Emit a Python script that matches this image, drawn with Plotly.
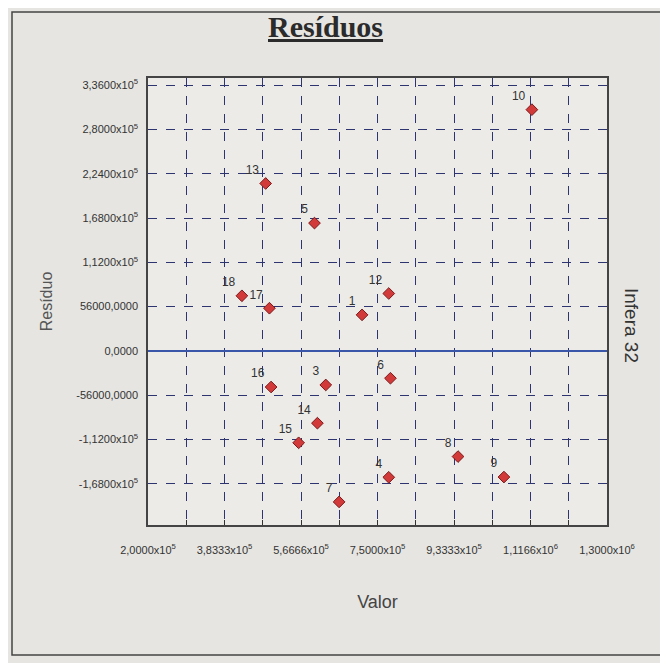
import plotly.graph_objects as go

# Data
labels = ["1", "3", "4", "5", "6", "7", "8", "9", "10", "12", "13", "14", "15", "16", "17", "18"]
valor = [713000, 626000, 777000, 599000, 781000, 658000, 943000, 1053000, 1120000,
         777000, 482000, 606000, 561000, 495000, 491000, 425000]
residuo = [45600, -43000, -159700, 161600, -34500, -190800, -133500, -159400, 305000,
           72600, 211700, -91300, -116100, -45600, 54000, 69700]

x_grid_vals = [200000 + k * 91666.67 for k in range(13)]
x_tick_text = ["2,0000x10<sup>5</sup>", "", "3,8333x10<sup>5</sup>", "", "5,6666x10<sup>5</sup>", "",
               "7,5000x10<sup>5</sup>", "", "9,3333x10<sup>5</sup>", "", "1,1166x10<sup>6</sup>", "",
               "1,3000x10<sup>6</sup>"]
y_tick_vals = [-168000, -112000, -56000, 0, 56000, 112000, 168000, 224000, 280000, 336000]
y_tick_text = ["-1,6800x10<sup>5</sup>", "-1,1200x10<sup>5</sup>", "-56000,0000", "0,0000",
               "56000,0000", "1,1200x10<sup>5</sup>", "1,6800x10<sup>5</sup>",
               "2,2400x10<sup>5</sup>", "2,8000x10<sup>5</sup>", "3,3600x10<sup>5</sup>"]

OFF = 8  # browser body margin
W, H = 660, 655
L, R, T, B = 148 - OFF, 607 - OFF, 78 - OFF, 525 - OFF

def px(x):
    return (x - OFF - L) / (R - L)

def py(y):
    return (B - (y - OFF)) / (B - T)

fig = go.Figure()
fig.add_trace(go.Scatter(
    x=valor, y=residuo, mode="markers+text", text=labels,
    textposition="top left",
    textfont=dict(family="Liberation Sans", size=12, color="#333333"),
    marker=dict(symbol="diamond", size=9, color="#d23a3a",
                line=dict(color="#7a1a1a", width=1)),
    cliponaxis=False, showlegend=False,
))

grid_color = "#2e3470"
fig.update_xaxes(
    range=[200000, 1300000], tickvals=x_grid_vals, ticktext=x_tick_text,
    showgrid=True, gridcolor=grid_color, griddash="dash", gridwidth=1.3,
    ticks="inside", ticklen=5, tickcolor="#333333", ticklabelstandoff=14,
    showline=True, linecolor="#444444", linewidth=1.5, mirror=True,
    zeroline=False,
    tickfont=dict(family="Liberation Sans Narrow, Liberation Sans", size=11, color="#333333"),
    title=dict(text="Valor", font=dict(family="Liberation Sans", size=18, color="#444444"), standoff=40),
)
fig.update_yaxes(
    range=[-220000, 345000], tickvals=y_tick_vals, ticktext=y_tick_text,
    showgrid=True, gridcolor=grid_color, griddash="dash", gridwidth=1.3,
    ticks="", ticklabelstandoff=6,
    showline=True, linecolor="#444444", linewidth=1.5, mirror=True,
    zeroline=True, zerolinecolor="#3a56a8", zerolinewidth=1.6,
    tickfont=dict(family="Liberation Sans Narrow, Liberation Sans", size=11, color="#333333"),
    title=dict(text="Resíduo", font=dict(family="Liberation Sans", size=16, color="#555555"), standoff=20),
)

fig.add_shape(type="rect", xref="paper", yref="paper",
              x0=px(12), x1=px(663), y0=py(655), y1=py(12),
              line=dict(color="#444444", width=1.5), fillcolor="rgba(0,0,0,0)", layer="below")

fig.add_annotation(text="<b><u>Resíduos</u></b>", xref="paper", yref="paper",
                   x=px(325), y=py(26), xanchor="center", yanchor="middle", showarrow=False,
                   font=dict(family="Liberation Serif", size=30, color="#2b2b2b"))
fig.add_annotation(text="Infera 32", xref="paper", yref="paper",
                   x=px(632), y=py(325), xanchor="center", yanchor="middle", showarrow=False,
                   textangle=90,
                   font=dict(family="Liberation Sans", size=19, color="#333333"))

fig.update_layout(
    width=W, height=H,
    margin=dict(l=L, r=W - R, t=T, b=H - B),
    paper_bgcolor="#e6e5e1", plot_bgcolor="#ecebe8",
)

fig.write_html("out.html")
